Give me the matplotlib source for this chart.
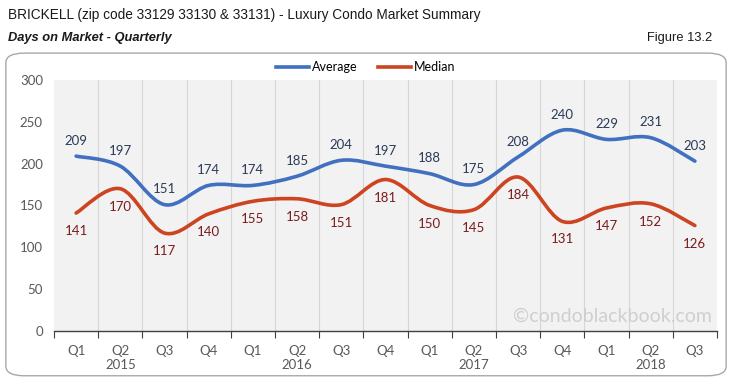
import numpy as np
import matplotlib.pyplot as plt
from matplotlib.path import Path
from matplotlib.patches import PathPatch, FancyBboxPatch
from matplotlib.lines import Line2D
from matplotlib.transforms import blended_transform_factory

quarters = ["Q1", "Q2", "Q3", "Q4", "Q1", "Q2", "Q3", "Q4",
            "Q1", "Q2", "Q3", "Q4", "Q1", "Q2", "Q3"]
years = ["2015", "2016", "2017", "2018"]
year_pos = [1, 5, 9, 13]
average = [209, 197, 151, 174, 174, 185, 204, 197, 188, 175, 208, 240, 229, 231, 203]
median = [141, 170, 117, 140, 155, 158, 151, 181, 150, 145, 184, 131, 147, 152, 126]

BLUE = "#4170C0"
RED = "#CC4420"
FONT = ["Lato", "DejaVu Sans"]
HEAD = ["Liberation Sans", "DejaVu Sans"]


def smooth_path(xs, ys):
    # excel-style smoothed line: bezier segments through every point
    p = np.column_stack([xs, ys]).astype(float)
    n = len(p)
    verts = [p[0]]
    codes = [Path.MOVETO]
    for i in range(n - 1):
        prev = p[i - 1] if i > 0 else p[i]
        nxt = p[i + 2] if i + 2 < n else p[i + 1]
        c1 = p[i] + (p[i + 1] - prev) / 6
        c2 = p[i + 1] - (nxt - p[i]) / 6
        verts += [c1, c2, p[i + 1]]
        codes += [Path.CURVE4] * 3
    return Path(verts, codes)


fig = plt.figure(figsize=(7.32, 3.85), dpi=100)

box = FancyBboxPatch((0.008, 0.024), 0.984, 0.838,
                     boxstyle="round,pad=0,rounding_size=0.025",
                     transform=fig.transFigure, facecolor="white",
                     edgecolor="#A8A8A8", lw=1.0, zorder=-5)
fig.patches.append(box)

fig.text(0.011, 0.962, "BRICKELL (zip code 33129 33130 & 33131) - Luxury Condo Market Summary",
         fontsize=9.8, family=HEAD, color="#1A1A1A", va="center")
fig.text(0.011, 0.900, "Days on Market - Quarterly", fontsize=9.3,
         family=HEAD, style="italic", weight="bold", color="#1A1A1A", va="center")
fig.text(0.973, 0.900, "Figure 13.2", fontsize=9.3, family=HEAD,
         color="#1A1A1A", va="center", ha="right")

ax = fig.add_axes([0.0738, 0.1403, 0.9057, 0.652])
ax.set_facecolor("#F2F2F2")
x = np.arange(len(quarters))
ax.set_xlim(-0.5, len(quarters) - 0.5)
ax.set_ylim(0, 300)

for b in np.arange(0.5, len(quarters) - 0.5, 1):
    ax.axvline(b, color="#D6D6D6", lw=0.8, zorder=1)

ax.add_patch(PathPatch(smooth_path(x, average), fill=False, edgecolor=BLUE,
                       lw=2.6, capstyle="round", zorder=3))
ax.add_patch(PathPatch(smooth_path(x, median), fill=False, edgecolor=RED,
                       lw=2.6, capstyle="round", zorder=3))

for xi, v in zip(x, average):
    ax.annotate(str(v), (xi, v), xytext=(0, 11), textcoords="offset points",
                ha="center", va="center", fontsize=9.5, family=FONT, color="#2B3A58")
for xi, v in zip(x, median):
    ax.annotate(str(v), (xi, v), xytext=(0, -13), textcoords="offset points",
                ha="center", va="center", fontsize=9.5, family=FONT, color="#7A1C1C")

for s in ["top", "right", "left"]:
    ax.spines[s].set_visible(False)
ax.spines["bottom"].set_color("#404040")
ax.spines["bottom"].set_linewidth(1.0)

ax.set_yticks(range(0, 301, 50))
ax.tick_params(axis="y", length=0, pad=8, labelsize=9.5, labelcolor="#595959")
for lbl in ax.get_yticklabels():
    lbl.set_family(FONT)

ax.set_xticks(np.arange(-0.5, len(quarters), 1))
ax.set_xticklabels([])
ax.tick_params(axis="x", which="major", length=5, color="#404040", direction="out")
ax.set_xticks(x, minor=True)
ax.set_xticklabels(quarters, minor=True, fontsize=9.5, color="#595959", family=FONT)
ax.tick_params(axis="x", which="minor", length=0, pad=10)

trans = blended_transform_factory(ax.transData, ax.transAxes)
for yp, yr in zip(year_pos, years):
    ax.text(yp, -0.135, yr, transform=trans, ha="center", va="center",
            fontsize=9.5, color="#595959", family=FONT)

ax.text(0.993, 0.025, "\u00a9condoblackbook.com", transform=ax.transAxes,
        ha="right", va="bottom", fontsize=14, color="#CFCFCF", family=FONT, zorder=2)

handles = [Line2D([], [], color=BLUE, lw=2.6), Line2D([], [], color=RED, lw=2.6)]
fig.legend(handles, ["Average", "Median"], loc="center", bbox_to_anchor=(0.5, 0.826),
           ncol=2, frameon=False, prop={"family": FONT, "size": 9},
           handlelength=2.6, columnspacing=1.6, handletextpad=0.3)

fig.savefig("out.png", dpi=100)
